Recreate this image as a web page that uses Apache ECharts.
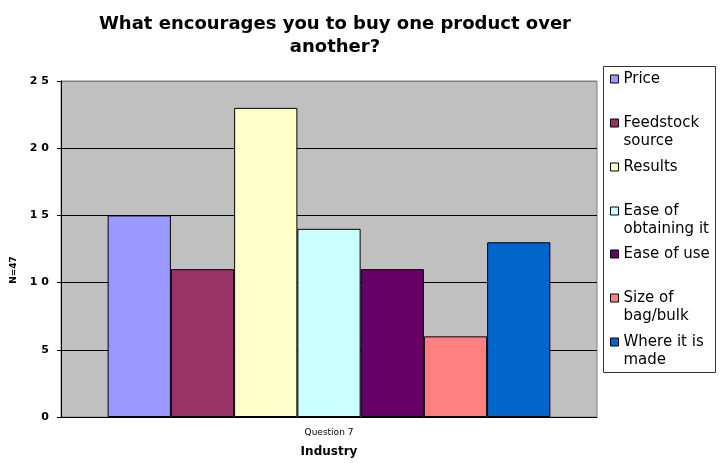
<!DOCTYPE html>
<html><head><meta charset="utf-8">
<script src="https://cdn.jsdelivr.net/npm/echarts@6/dist/echarts.min.js"></script>
<style>html,body{margin:0;padding:0;background:#fff}#c{width:725px;height:463px}</style>
</head><body><div id="c"></div>
<script>
const categories = ['Question 7'];
const seriesNames = ['Price', 'Feedstock\nsource', 'Results', 'Ease of\nobtaining it', 'Ease of use', 'Size of\nbag/bulk', 'Where it is\nmade'];
const seriesValues = [15, 11, 23, 14, 11, 6, 13];
const seriesColors = ['#9999FF', '#993366', '#FFFFCC', '#CCFFFF', '#660066', '#FF8080', '#0066CC'];
const yTicks = [0, 5, 10, 15, 20, 25];

const sans = 'DejaVu Sans, Verdana, sans-serif';
const chart = echarts.init(document.getElementById('c'));
const iconCenters = [79, 123, 167, 211, 254, 298, 342];
const option = {
  animation: false,
  title: {
    text: 'What encourages you to buy one product over\nanother?',
    left: 330, top: 8, textAlign: 'center',
    textStyle: { fontFamily: sans, fontSize: 18, fontWeight: 'bold', color: '#000', lineHeight: 23 }
  },
  graphic: [{
    type: 'rect', shape: { x: 603.5, y: 66.5, width: 112, height: 306 },
    style: { fill: '#fff', stroke: '#333', lineWidth: 1 }, z: 0
  }, {
    type: 'text', x: 14, y: 270, rotation: Math.PI / 2,
    style: { text: 'N=47', fill: '#000', font: 'bold 9px ' + sans, align: 'center', verticalAlign: 'middle' }
  }],
  legend: seriesNames.map((n, i) => {
    const two = n.indexOf('\n') >= 0;
    return {
      data: [n], left: 610, top: iconCenters[i] - (two ? 27 : 9), orient: 'vertical',
      itemWidth: 8, itemHeight: 8, itemGap: 0, icon: 'rect', padding: 0,
      itemStyle: { borderColor: '#000', borderWidth: 1 },
      formatter: name => (name.indexOf('\n') >= 0 ? '\n' + name : name),
      textStyle: { fontFamily: sans, fontSize: 15, color: '#000', lineHeight: 18 },
      z: 5
    };
  }),
  grid: { left: 61, right: 128, top: 81, bottom: 44, show: true, backgroundColor: '#C0C0C0', borderColor: '#808080', borderWidth: 1 },
  xAxis: {
    type: 'category', data: categories,
    axisLine: { lineStyle: { color: '#000', width: 1 } },
    axisTick: { show: false },
    axisLabel: { fontFamily: sans, fontSize: 9, color: '#000', margin: 11 },
    name: 'Industry', nameLocation: 'middle', nameGap: 29,
    nameTextStyle: { fontFamily: sans, fontSize: 12, fontWeight: 'bold', color: '#000' }
  },
  yAxis: {
    type: 'value', min: yTicks[0], max: yTicks[yTicks.length - 1], interval: 5,
    axisLine: { show: true, lineStyle: { color: '#000' } },
    axisTick: { show: true, length: 4, lineStyle: { color: '#000' } },
    splitLine: { lineStyle: { color: ['#000', '#000', '#000', '#000', '#000', '#808080'], width: 1 } },
    axisLabel: { fontFamily: sans, fontSize: 11, fontWeight: 'bold', color: '#000', margin: 12,
      formatter: v => String(v).split('').join(' ') }
  },
  series: seriesNames.map((n, i) => ({
    name: n, type: 'bar', data: [seriesValues[i]],
    barGap: 0, barCategoryGap: '17.4%',
    itemStyle: { color: seriesColors[i], borderColor: '#000', borderWidth: 1 }
  }))
};
chart.setOption(option);
</script></body></html>
